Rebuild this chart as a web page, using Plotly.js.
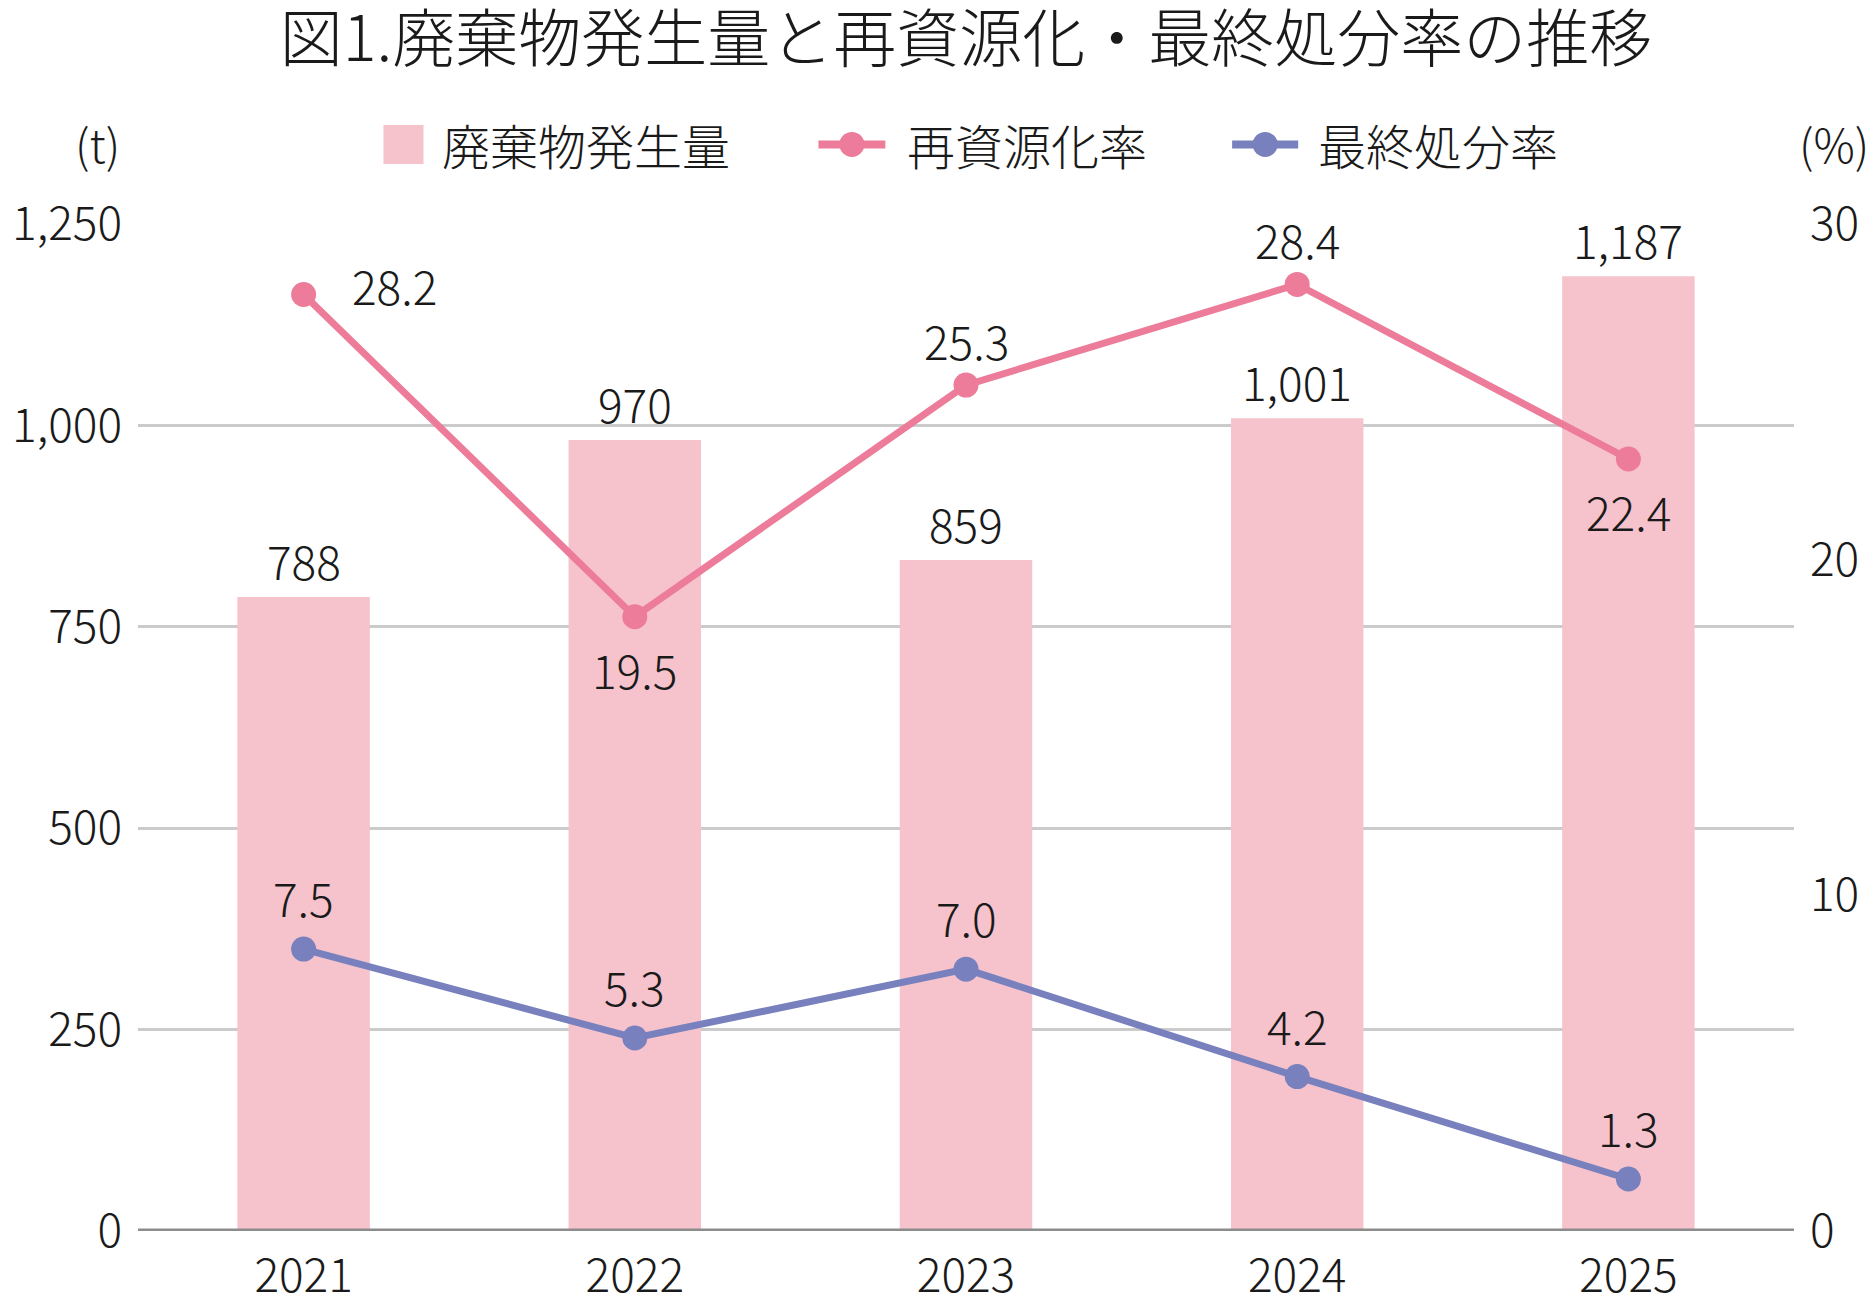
<!DOCTYPE html>
<html>
<head>
<meta charset="utf-8">
<script src="https://cdn.plot.ly/plotly-3.0.1.min.js"></script>
<style>
html, body { margin: 0; padding: 0; background: #fff; }
#chart { width: 1876px; height: 1310px; }
</style>
</head>
<body>
<div id="chart"></div>
<script>
var years = ['2021', '2022', '2023', '2024', '2025'];

// bar heights as drawn (t) and the numbers printed above them
var wasteAmount = [787, 982, 833, 1009, 1185];
var wasteLabels = ['788', '970', '859', '1,001', '1,187'];

// rates (%) as drawn, and their printed labels
var recycleRate = [27.9, 18.3, 25.2, 28.2, 23.0];
var recycleLabels = ['28.2', '19.5', '25.3', '28.4', '22.4'];
var recycleLabelSide = ['right', 'below', 'above', 'above', 'below'];

var landfillRate = [8.4, 5.75, 7.8, 4.6, 1.55];
var landfillLabels = ['7.5', '5.3', '7.0', '4.2', '1.3'];

var FONT = '"Noto Sans CJK JP", "Noto Sans", sans-serif';
var PINK_BAR = '#f6c3cd';
var PINK = '#ec7c99';
var BLUE = '#7880bd';
var TXT = '#1a1a1a';

var traces = [
    {
        type: 'bar',
        x: years,
        y: wasteAmount,
        name: '廃棄物発生量',
        marker: { color: PINK_BAR },
        hoverinfo: 'skip'
    },
    {
        type: 'scatter',
        mode: 'lines+markers',
        x: years,
        y: recycleRate,
        yaxis: 'y2',
        name: '再資源化率',
        line: { color: PINK, width: 7 },
        marker: { color: PINK, size: 25 },
        hoverinfo: 'skip'
    },
    {
        type: 'scatter',
        mode: 'lines+markers',
        x: years,
        y: landfillRate,
        yaxis: 'y2',
        name: '最終処分率',
        line: { color: BLUE, width: 7 },
        marker: { color: BLUE, size: 25 },
        hoverinfo: 'skip'
    }
];

// data labels (x given as category index)
var annotations = [];
years.forEach(function (yr, i) {
    annotations.push({
        x: i, y: wasteAmount[i], xref: 'x', yref: 'y',
        text: wasteLabels[i], showarrow: false, yanchor: 'middle', yshift: 37
    });
    var a = {
        x: i, y: recycleRate[i], xref: 'x', yref: 'y2',
        text: recycleLabels[i], showarrow: false, yanchor: 'middle'
    };
    if (recycleLabelSide[i] == 'right') {
        a.xanchor = 'left';
        a.xshift = 46;
        a.yshift = 9;
    } else if (recycleLabelSide[i] == 'below') {
        a.yshift = -52;
    } else {
        a.yshift = 45;
    }
    annotations.push(a);
    annotations.push({
        x: i, y: landfillRate[i], xref: 'x', yref: 'y2',
        text: landfillLabels[i], showarrow: false, yanchor: 'middle', yshift: 52
    });
});

// units over the two axes
annotations.push({ xref: 'paper', yref: 'paper', x: -0.0245, y: 1.0805, text: '(t)', showarrow: false, xanchor: 'center', yanchor: 'middle' });
annotations.push({ xref: 'paper', yref: 'paper', x: 1.0239, y: 1.0805, text: '(%)', showarrow: false, xanchor: 'center', yanchor: 'middle' });

// legend, drawn by hand so the swatches get the same size as in the picture
var legY = 1.079;
var legendItems = [
    { text: '廃棄物発生量', kind: 'box', x0: 0.1482, x1: 0.1724, tx: 0.1826, color: PINK_BAR },
    { text: '再資源化率', kind: 'line', x0: 0.4109, x1: 0.4513, tx: 0.4633, color: PINK },
    { text: '最終処分率', kind: 'line', x0: 0.6607, x1: 0.7006, tx: 0.7114, color: BLUE }
];
var shapes = [];
legendItems.forEach(function (it) {
    if (it.kind == 'box') {
        shapes.push({ type: 'rect', xref: 'paper', yref: 'paper', x0: it.x0, x1: it.x1,
            y0: 1.0596, y1: 1.0984, fillcolor: it.color, line: { width: 0 } });
    } else {
        shapes.push({ type: 'line', xref: 'paper', yref: 'paper', x0: it.x0, x1: it.x1,
            y0: legY, y1: legY, line: { color: it.color, width: 8 } });
        shapes.push({ type: 'circle', xref: 'paper', yref: 'paper',
            xsizemode: 'pixel', ysizemode: 'pixel',
            xanchor: (it.x0 + it.x1) / 2, yanchor: legY,
            x0: -12.5, x1: 12.5, y0: -12.5, y1: 12.5,
            fillcolor: it.color, line: { width: 0 } });
    }
    annotations.push({ xref: 'paper', yref: 'paper', x: it.tx, y: legY, text: it.text,
        showarrow: false, xanchor: 'left', yanchor: 'middle', font: { size: 48, weight: 300 } });
});

// base line at zero, over the bars
shapes.push({ type: 'line', xref: 'paper', x0: 0, x1: 1, yref: 'y', y0: 0, y1: 0,
    line: { color: '#8c8c8c', width: 5 }, layer: 'above' });

var layout = {
    width: 1876,
    height: 1310,
    paper_bgcolor: '#ffffff',
    plot_bgcolor: '#ffffff',
    font: { family: FONT, size: 46, color: TXT, weight: 300 },
    title: {
        text: '図1.廃棄物発生量と再資源化・最終処分率の推移',
        font: { family: FONT, size: 63, color: TXT, weight: 300 },
        x: 0.5, xref: 'paper', xanchor: 'center',
        y: 0.970, yref: 'container', yanchor: 'middle'
    },
    showlegend: false,
    bargap: 0.6,
    margin: { l: 138, r: 82, t: 224, b: 79, pad: 0 },
    xaxis: {
        type: 'category',
        range: [-0.5, 4.5],
        showgrid: false,
        showline: false,
        zeroline: false,
        ticks: '',
        ticklabelstandoff: 14,
        tickfont: { size: 46, weight: 300 },
        fixedrange: true
    },
    yaxis: {
        range: [0, 1250],
        dtick: 250,
        tickformat: ',d',
        gridcolor: '#cbcbcb',
        gridwidth: 3,
        zeroline: false,
        showline: false,
        ticks: '',
        ticklabelstandoff: 15,
        tickfont: { size: 46, weight: 300 },
        fixedrange: true
    },
    yaxis2: {
        overlaying: 'y',
        side: 'right',
        range: [0, 30],
        dtick: 10,
        showgrid: false,
        zeroline: false,
        showline: false,
        ticks: '',
        ticklabelstandoff: 15,
        tickfont: { size: 46, weight: 300 },
        fixedrange: true
    },
    shapes: shapes,
    annotations: annotations
};

Plotly.newPlot('chart', traces, layout, { displayModeBar: false, responsive: false });
</script>
</body>
</html>
